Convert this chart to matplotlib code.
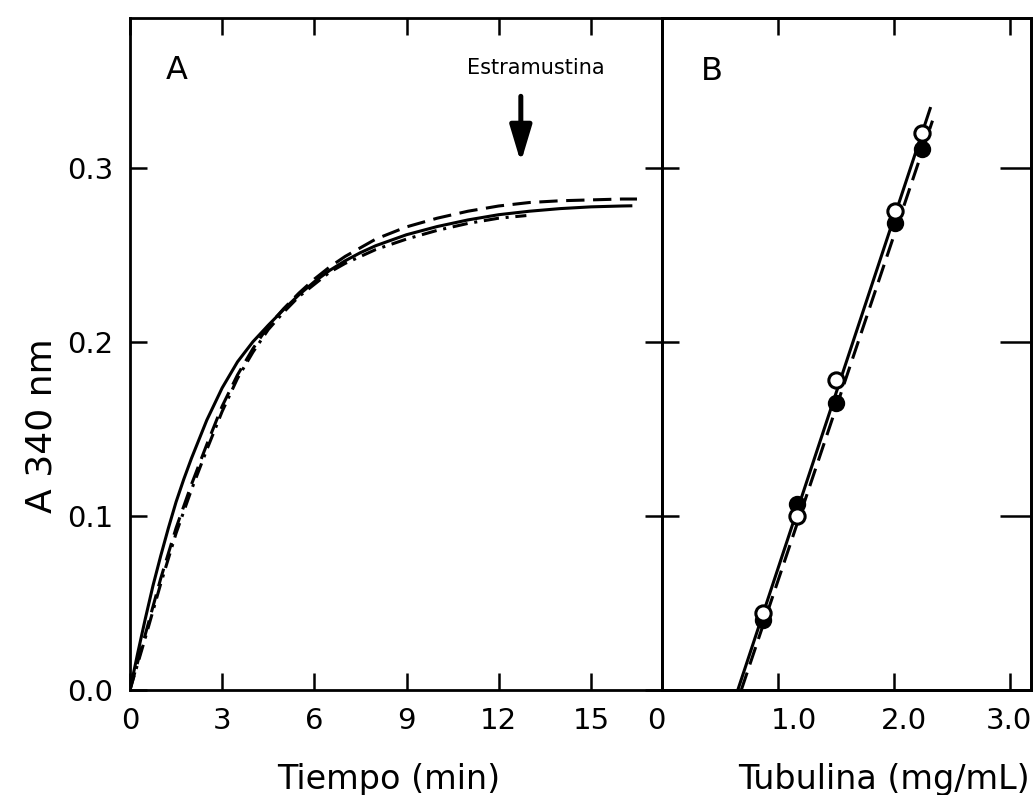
import matplotlib
matplotlib.use("Agg")
import matplotlib.pyplot as plt
from matplotlib.transforms import ScaledTranslation

# ---------------- data ----------------
# Panel A: turbidity time courses (A340 vs time, min)
t_solid = [0, 0.25, 0.5, 0.75, 1, 1.25, 1.5, 1.75, 2, 2.5, 3, 3.5, 4, 4.5, 5, 5.5, 6,
           6.5, 7, 7.5, 8, 9, 10, 11, 12, 13, 14, 15, 16, 16.3]
a_solid = [0, 0.021, 0.041, 0.060, 0.077, 0.093, 0.108, 0.121, 0.133, 0.155, 0.1735,
           0.1885, 0.200, 0.2095, 0.2185, 0.2270, 0.2345, 0.2410, 0.2465, 0.2512, 0.2552,
           0.2615, 0.2662, 0.2700, 0.2730, 0.2750, 0.2765, 0.2775, 0.2780, 0.2781]
t_dash = [0, 0.5, 1, 1.5, 2, 2.5, 3, 3.5, 4, 4.5, 5, 5.5, 6, 6.5, 7, 7.5, 8, 9, 10, 11,
          12, 13, 14, 15, 16, 16.5]
a_dash = [0, 0.032, 0.064, 0.093, 0.118, 0.141, 0.163, 0.181, 0.196, 0.209, 0.219, 0.228,
          0.236, 0.243, 0.249, 0.254, 0.259, 0.266, 0.271, 0.275, 0.278, 0.280, 0.281,
          0.2815, 0.282, 0.282]
t_dashdot = [0, 0.5, 1, 1.5, 2, 2.5, 3, 3.5, 4, 4.5, 5, 5.5, 6, 6.5, 7, 7.5, 8, 9, 10,
             11, 12, 12.9]
a_dashdot = [0, 0.030, 0.061, 0.090, 0.115, 0.138, 0.160, 0.179, 0.194, 0.207, 0.217,
             0.226, 0.233, 0.240, 0.245, 0.249, 0.253, 0.259, 0.264, 0.268, 0.271, 0.2725]

# Panel B: A340 plateau vs tubulin concentration
tub_open = [0.87, 1.16, 1.50, 2.01, 2.24]
a_open = [0.044, 0.100, 0.178, 0.275, 0.320]
tub_filled = [0.87, 1.16, 1.50, 2.01, 2.24]
a_filled = [0.040, 0.107, 0.165, 0.268, 0.311]
fit_open_x = [0.65, 2.31]
fit_open_y = [0.0, 0.334]
fit_filled_x = [0.68, 2.33]
fit_filled_y = [0.0, 0.327]

xticks_A = [0, 3, 6, 9, 12, 15]
xticks_B = [0, 1.0, 2.0, 3.0]
xtick_labels_B = ["0", "1.0", "2.0", "3.0"]
yticks = [0.0, 0.1, 0.2, 0.3]
ytick_labels = ["0.0", "0.1", "0.2", "0.3"]

# ---------------- figure ----------------
plt.rcParams["font.family"] = ["DejaVu Sans"]
fig = plt.figure(figsize=(10.34, 7.95), dpi=100)

axA = fig.add_axes([0.1257, 0.1321, 0.5150, 0.8453])
axB = fig.add_axes([0.6407, 0.1321, 0.3564, 0.8453])

lw_spine = 2.0
LW = 2.2
for ax in (axA, axB):
    for s in ax.spines.values():
        s.set_linewidth(lw_spine)
    ax.set_ylim(0, 0.386)

# Panel A
axA.plot(t_solid, a_solid, color="black", lw=LW, ls="-")
axA.plot(t_dash, a_dash, color="black", lw=LW, ls=(0, (6, 2.8)))
axA.plot(t_dashdot, a_dashdot, color="black", lw=LW, ls=(0, (5, 2.2, 1, 2.2)))
axA.set_xlim(0, 17.33)
axA.set_xticks(xticks_A)
axA.set_xticklabels([str(v) for v in xticks_A])
axA.set_yticks(yticks)
axA.set_yticklabels(ytick_labels)
axA.tick_params(axis="both", direction="in", length=12, width=1.8, labelsize=21,
                top=True, right=True)
axA.tick_params(axis="y", pad=12)
axA.tick_params(axis="x", pad=12)
axA.text(1.53, 0.356, "A", fontsize=23, ha="center", va="center")
axA.text(13.2, 0.357, "Estramustina", fontsize=15, ha="center", va="center")
axA.annotate("", xy=(12.72, 0.303), xytext=(12.72, 0.341),
             arrowprops=dict(arrowstyle="-|>,head_length=1.1,head_width=0.33",
                             lw=3.6, color="black", mutation_scale=20,
                             shrinkA=0, shrinkB=0))
axA.set_xlabel("Tiempo (min)", fontsize=24)
axA.xaxis.set_label_coords(0.485, -0.108)

# Panel B
axB.plot(fit_open_x, fit_open_y, color="black", lw=LW, ls="-")
axB.plot(fit_filled_x, fit_filled_y, color="black", lw=LW, ls=(0, (6, 2.8)))
axB.plot(tub_filled, a_filled, ls="none", marker="o", ms=11, mfc="black",
         mec="black", mew=1.5)
axB.plot(tub_open, a_open, ls="none", marker="o", ms=11, mfc="white",
         mec="black", mew=2.2)
axB.set_xlim(0, 3.18)
axB.set_xticks(xticks_B)
axB.set_xticklabels(xtick_labels_B)
axB.set_yticks(yticks)
axB.tick_params(axis="x", direction="in", length=12, width=1.8, labelsize=21,
                top=True, pad=12)
axB.tick_params(axis="y", direction="in", length=12, width=1.8, left=True,
                right=False, labelleft=False)
shifts = [-6, 16, 10, -1]
for lab, dx in zip(axB.get_xticklabels(), shifts):
    lab.set_transform(lab.get_transform() + ScaledTranslation(dx / 100, 0, fig.dpi_scale_trans))
axB.text(0.43, 0.355, "B", fontsize=23, ha="center", va="center")
axB.set_xlabel("Tubulina (mg/mL)", fontsize=24)
axB.xaxis.set_label_coords(0.60, -0.108)

axR = axB.twinx()
axR.set_ylim(0, 0.386)
axR.set_yticks(yticks)
axR.tick_params(axis="y", direction="in", length=22, width=1.8, labelright=False)
for s in axR.spines.values():
    s.set_linewidth(lw_spine)

fig.text(0.040, 0.465, "A 340 nm", rotation=90, fontsize=26, ha="center", va="center")

fig.savefig("out.png", dpi=100)
